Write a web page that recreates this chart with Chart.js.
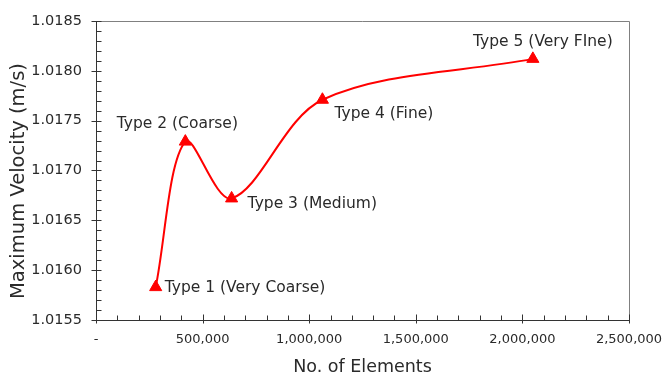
<!DOCTYPE html>
<html>
<head>
<meta charset="utf-8">
<script src="https://cdn.jsdelivr.net/npm/chart.js@4.4.1/dist/chart.umd.min.js"></script>
<style>
  html, body { margin: 0; padding: 0; background: #fff; }
  #wrap { width: 665px; height: 378px; }
</style>
</head>
<body>
<div id="wrap"><canvas id="c"></canvas></div>
<script>
// mesh study data
const meshNames = ['Type 1 (Very Coarse)', 'Type 2 (Coarse)', 'Type 3 (Medium)', 'Type 4 (Fine)', 'Type 5 (Very FIne)'];
const elements = [280000, 419000, 636000, 1062000, 2049000];
const velocity = [1.01583, 1.01729, 1.01672, 1.01771, 1.01812];

const Y_MIN = 1.0155, Y_MAX = 1.0185, Y_STEP = 0.0005, Y_MINOR = 0.0001;
const X_MIN = 0, X_MAX = 2500000, X_STEP = 500000, X_MINOR = 100000;
const yTitle = 'Maximum Velocity (m/s)';
const xTitle = 'No. of Elements';

const FONT = 'DejaVu Sans';
const RED = '#ff0000';
const INK = '#2a2a2a';

// where each point label sits relative to its marker
const labelPos = [
  { dx: 9, dy: 1, align: 'left' },
  { dx: -8, dy: -18, align: 'center' },
  { dx: 16, dy: 6, align: 'left' },
  { dx: 12, dy: 14, align: 'left' },
  { dx: 10, dy: -17, align: 'center' },
];

const frame = {
  id: 'frame',
  afterDatasetsDraw(chart) {
    const { ctx, chartArea: a, scales } = chart;
    const xs = scales.x, ys = scales.y;
    ctx.save();
    ctx.lineWidth = 1;

    // top / right border
    ctx.strokeStyle = '#808080';
    ctx.beginPath();
    ctx.moveTo(a.left, a.top + 0.5);
    ctx.lineTo(a.right + 0.5, a.top + 0.5);
    ctx.lineTo(a.right + 0.5, a.bottom);
    ctx.stroke();

    // axes
    ctx.strokeStyle = '#333';
    ctx.beginPath();
    ctx.moveTo(Math.round(a.left) + 0.5, a.top);
    ctx.lineTo(Math.round(a.left) + 0.5, a.bottom + 0.5);
    ctx.lineTo(a.right + 0.5, a.bottom + 0.5);
    ctx.stroke();

    ctx.beginPath();
    const lx = Math.round(a.left) + 0.5;
    for (let i = 0; i <= Math.round((Y_MAX - Y_MIN) / Y_MINOR); i++) {
      const v = Y_MIN + i * Y_MINOR;
      const y = Math.round(ys.getPixelForValue(v)) + 0.5;
      if (i % 5 === 0) { ctx.moveTo(lx - 5, y); ctx.lineTo(lx + 5, y); }
      else { ctx.moveTo(lx, y); ctx.lineTo(lx + 5, y); }
    }
    const by = Math.round(a.bottom) + 0.5;
    for (let i = 0; i <= Math.round((X_MAX - X_MIN) / X_MINOR); i++) {
      const v = X_MIN + i * X_MINOR;
      const x = Math.round(xs.getPixelForValue(v)) + 0.5;
      if (i % 5 === 0) { ctx.moveTo(x, by + 3); ctx.lineTo(x, by - 6); }
      else { ctx.moveTo(x, by); ctx.lineTo(x, by - 5); }
    }
    ctx.stroke();

    // y title, sits a bit below the plot centre like the original
    ctx.fillStyle = INK;
    ctx.font = '19.5px "' + FONT + '"';
    ctx.textAlign = 'center';
    ctx.textBaseline = 'middle';
    ctx.translate(19, 181);
    ctx.rotate(-Math.PI / 2);
    ctx.fillText(yTitle, 0, 0);
    ctx.setTransform(1, 0, 0, 1, 0, 0);

    // point labels
    const meta = chart.getDatasetMeta(0);
    ctx.font = '15.5px "' + FONT + '"';
    meta.data.forEach((pt, i) => {
      const p = labelPos[i];
      ctx.textAlign = p.align;
      ctx.fillText(meshNames[i], pt.x + p.dx, pt.y + p.dy);
    });
    ctx.restore();
  }
};

new Chart(document.getElementById('c'), {
  type: 'scatter',
  data: {
    datasets: [{
      label: yTitle,
      data: elements.map((x, i) => ({ x, y: velocity[i] })),
      showLine: true,
      borderColor: RED,
      borderWidth: 2,
      tension: 0.33,
      pointStyle: 'triangle',
      pointRadius: 7,
      pointHoverRadius: 7,
      pointBackgroundColor: RED,
      pointBorderColor: RED,
      pointBorderWidth: 1,
    }]
  },
  options: {
    responsive: true,
    maintainAspectRatio: false,
    animation: false,
    layout: { padding: { top: 21, right: 36, left: 0, bottom: 0 } },
    plugins: { legend: { display: false }, tooltip: { enabled: false } },
    scales: {
      x: {
        type: 'linear',
        min: X_MIN, max: X_MAX,
        grid: { display: false },
        border: { display: false },
        ticks: {
          stepSize: X_STEP,
          padding: 4,
          color: INK,
          font: { family: FONT, size: 13 },
          maxRotation: 0,
          callback: v => v === 0 ? '-' : Number(v).toLocaleString('en-US'),
        },
        title: { display: true, text: xTitle, color: INK, font: { family: FONT, size: 17.5 }, padding: 0 },
        afterFit: s => { s.height = 58; s.paddingLeft = 0; s.paddingRight = 0; },
      },
      y: {
        min: Y_MIN, max: Y_MAX,
        grid: { display: false },
        border: { display: false },
        ticks: {
          stepSize: Y_STEP,
          padding: 6,
          color: INK,
          font: { family: FONT, size: 14.5 },
          callback: v => Number(v).toFixed(4),
        },
        afterFit: s => { s.width = 96; s.paddingTop = 0; s.paddingBottom = 0; },
      }
    }
  },
  plugins: [frame]
});
</script>
</body>
</html>
